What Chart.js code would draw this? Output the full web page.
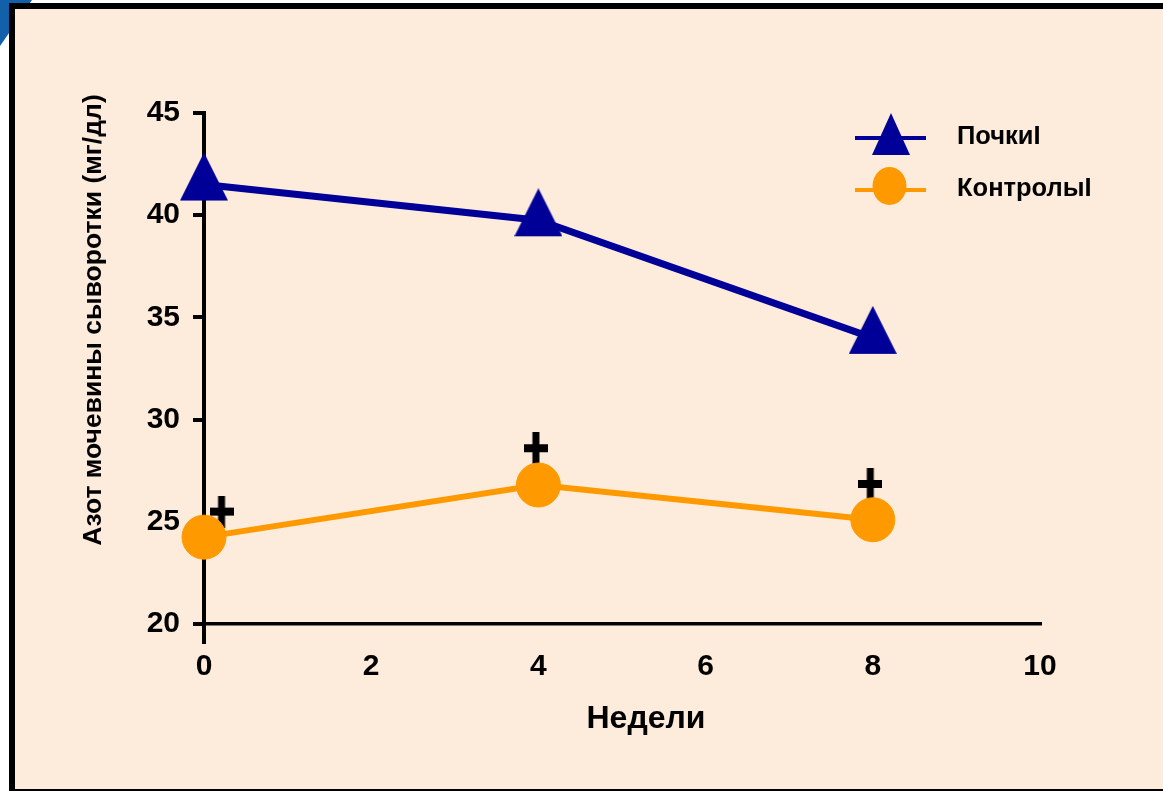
<!DOCTYPE html>
<html>
<head>
<meta charset="utf-8">
<script src="https://cdn.jsdelivr.net/npm/chart.js@4"></script>
<style>
  html, body { margin: 0; padding: 0; background: #fff; overflow: hidden; }
  .corner {
    position: absolute; left: 0; top: 0; width: 32px; height: 46px;
    background: #1260aa; clip-path: polygon(0 0, 100% 0, 0 100%);
  }
  .box {
    position: absolute; left: 9px; top: 3px; width: 1148px; height: 780px;
    background: #fdecdc;
    border-left: 6px solid #000; border-top: 6px solid #000; border-bottom: 2px solid #000;
  }
  #wrap { position: absolute; left: 0; top: 0; width: 1163px; height: 791px; }
</style>
</head>
<body>
<div class="corner"></div>
<div class="box"></div>
<div id="wrap"><canvas id="grafico"></canvas></div>
<script>
// Dados do gráfico (semanas x azoto ureico)
const semanas = [0, 4, 8];
const pochki = [41.5, 39.75, 34.0];
const kontroly = [24.25, 26.8, 25.1];
// marcas de significância "+"
const marcasX = [0.21, 3.97, 7.97];
const marcasY = [25.5, 28.6, 26.85];

const tituloY = "Азот мочевины сыворотки (мг/дл)";
const tituloX = "Недели";
const nomes = ["ПочкиI", "КонтролыI"];

const azul = "#000099";
const laranja = "#ff9900";
const fonte = "'Liberation Sans', Arial, sans-serif";

// desenha a cruz usada como marcador
const cruz = document.createElement("canvas");
cruz.width = 24; cruz.height = 32;
const cc = cruz.getContext("2d");
cc.fillStyle = "#000";
cc.fillRect(0, 12, 24, 8);
cc.fillRect(8.5, 0, 7, 32);

// triângulo um pouco mais alto que o padrão (ponto no baricentro)
const tri = document.createElement("canvas");
tri.width = 48; tri.height = 64;
const tc = tri.getContext("2d");
tc.fillStyle = azul;
tc.beginPath();
tc.moveTo(24, 0);
tc.lineTo(48, 48);
tc.lineTo(0, 48);
tc.closePath();
tc.fill();

function pontos(xs, ys) {
    return xs.map((x, i) => ({ x: x, y: ys[i] }));
}

// títulos dos eixos e legenda desenhados à mão
const extras = {
    id: "extras",
    afterDraw(chart) {
        const ctx = chart.ctx;
        ctx.save();
        ctx.fillStyle = "#000";
        ctx.textBaseline = "middle";

        // título do eixo Y
        ctx.save();
        ctx.translate(94, 320);
        ctx.rotate(-Math.PI / 2);
        ctx.textAlign = "center";
        ctx.font = "bold 26.5px " + fonte;
        ctx.fillText(tituloY, 0, 0);
        ctx.restore();

        // título do eixo X
        ctx.textAlign = "center";
        ctx.font = "bold 32px " + fonte;
        ctx.fillText(tituloX, 646, 719);

        // legenda
        const linhas = [138, 190];
        const cores = [azul, laranja];
        linhas.forEach((y, i) => {
            ctx.strokeStyle = cores[i];
            ctx.lineWidth = 4;
            ctx.beginPath();
            ctx.moveTo(855, y);
            ctx.lineTo(926, y);
            ctx.stroke();
            ctx.fillStyle = cores[i];
            ctx.beginPath();
            if (i === 0) {
                ctx.moveTo(891, 113);
                ctx.lineTo(910, 155);
                ctx.lineTo(872, 155);
                ctx.closePath();
            } else {
                ctx.ellipse(889.5, 186, 17, 19, 0, 0, Math.PI * 2);
            }
            ctx.fill();
            ctx.fillStyle = "#000";
            ctx.textAlign = "left";
            ctx.font = "bold 25.5px " + fonte;
            ctx.fillText(nomes[i], 957, y - 1);
        });
        ctx.restore();
    }
};

const ctx = document.getElementById("grafico").getContext("2d");
const grafico = new Chart(ctx, {
    type: "scatter",
    data: {
        datasets: [
            {
                label: nomes[0],
                data: pontos(semanas, pochki),
                showLine: true,
                borderColor: azul,
                backgroundColor: azul,
                borderWidth: 7,
                pointStyle: tri,
                clip: false
            },
            {
                label: nomes[1],
                data: pontos(semanas, kontroly),
                showLine: true,
                borderColor: laranja,
                backgroundColor: laranja,
                borderWidth: 6,
                pointStyle: "circle",
                pointRadius: 22,
                pointBorderWidth: 1,
                clip: false
            },
            {
                label: "sig",
                data: pontos(marcasX, marcasY),
                showLine: false,
                pointStyle: cruz,
                clip: false
            }
        ]
    },
    options: {
        responsive: true,
        maintainAspectRatio: false,
        animation: false,
        layout: { padding: { left: 0, right: 123, top: 113, bottom: 0 } },
        plugins: {
            legend: { display: false },
            tooltip: { enabled: false }
        },
        scales: {
            x: {
                type: "linear",
                min: 0, max: 10,
                ticks: {
                    stepSize: 2,
                    color: "#000",
                    padding: 5,
                    maxRotation: 0,
                    font: { family: fonte, size: 30, weight: "bold" }
                },
                border: { display: true, color: "#000", width: 3.5 },
                grid: {
                    drawOnChartArea: false,
                    drawTicks: true,
                    tickLength: 20,
                    lineWidth: 4,
                    color: (c) => (c.tick && c.tick.value === 0 ? "#000" : "rgba(0,0,0,0)")
                },
                afterFit(s) { s.height = 167; }
            },
            y: {
                type: "linear",
                min: 20, max: 45,
                ticks: {
                    stepSize: 5,
                    color: "#000",
                    padding: 13,
                    font: { family: fonte, size: 30, weight: "bold" }
                },
                border: { display: true, color: "#000", width: 4 },
                grid: {
                    drawOnChartArea: false,
                    drawTicks: true,
                    tickLength: 11,
                    lineWidth: 4,
                    color: "#000"
                },
                afterFit(s) { s.width = 204; }
            }
        }
    },
    plugins: [extras]
});
</script>
</body>
</html>
